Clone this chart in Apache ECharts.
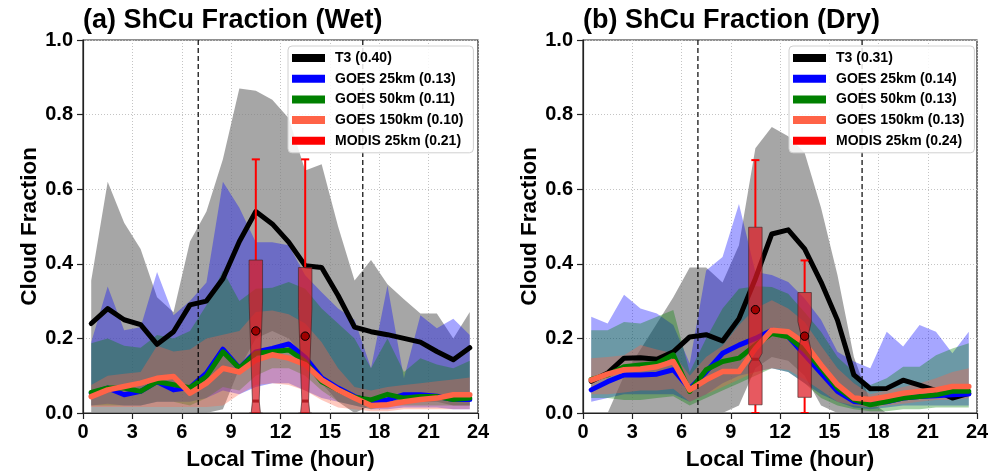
<!DOCTYPE html>
<html><head><meta charset="utf-8">
<script src="https://cdn.jsdelivr.net/npm/echarts/dist/echarts.min.js"></script>
<style>html,body{margin:0;padding:0;background:#fff}#c{width:995px;height:476px}</style>
</head><body><div id="c"></div>
<script>
const FONT = "'Liberation Sans', Arial, Helvetica, sans-serif";

// ---- shared ----
const hours = [0.5,1.5,2.5,3.5,4.5,5.5,6.5,7.5,8.5,9.5,10.5,11.5,12.5,13.5,14.5,15.5,16.5,17.5,18.5,19.5,20.5,21.5,22.5,23.5];
const xTickLabels = [0,3,6,9,12,15,18,21,24];
const yTickLabels = [0.0,0.2,0.4,0.6,0.8,1.0];
const dayBounds = [7, 17];

// ---- (a) Wet ----
const titleWet = "(a) ShCu Fraction (Wet)";
const namesWet = ["T3 (0.40)","GOES 25km (0.13)","GOES 50km (0.11)","GOES 150km (0.10)","MODIS 25km (0.21)"];
const t3Wet      = [0.24,0.28,0.25,0.237,0.184,0.218,0.29,0.30,0.36,0.46,0.54,0.507,0.458,0.395,0.39,0.315,0.23,0.218,0.21,0.20,0.19,0.165,0.143,0.175];
const goes25Wet  = [0.053,0.067,0.049,0.058,0.084,0.062,0.068,0.107,0.171,0.12,0.164,0.173,0.185,0.149,0.094,0.067,0.044,0.031,0.035,0.049,0.049,0.045,0.036,0.036];
const goes50Wet  = [0.055,0.067,0.067,0.058,0.084,0.076,0.068,0.098,0.164,0.12,0.16,0.164,0.169,0.138,0.084,0.062,0.042,0.035,0.05,0.04,0.044,0.044,0.036,0.04];
const goes150Wet = [0.044,0.062,0.071,0.08,0.093,0.098,0.053,0.08,0.12,0.11,0.142,0.156,0.147,0.13,0.089,0.062,0.04,0.02,0.022,0.03,0.036,0.04,0.049,0.049];
const grayLoWet  = [0,0,0,0,0,0,0,0,0.01,0.12,0.2,0.22,0.2,0.15,0.08,0.03,0,0.02,0.03,0.03,0.03,0.03,0.02,0.02];
const grayHiWet  = [0.355,0.62,0.51,0.44,0.31,0.27,0.46,0.54,0.68,0.87,0.864,0.84,0.79,0.65,0.667,0.50,0.355,0.41,0.345,0.305,0.267,0.267,0.2,0.271];
const blueLoWet  = [0.02,0.025,0.02,0.02,0.03,0.03,0.03,0.04,0.06,0.05,0.07,0.08,0.08,0.06,0.04,0.03,0.02,0.01,0.01,0.015,0.015,0.015,0.01,0.01];
const blueHiWet  = [0.19,0.339,0.222,0.23,0.378,0.262,0.30,0.35,0.62,0.55,0.458,0.458,0.45,0.369,0.324,0.28,0.25,0.12,0.342,0.093,0.262,0.227,0.253,0.209];
const greenLoWet = [0.02,0.02,0.02,0.02,0.03,0.03,0.02,0.04,0.07,0.06,0.1,0.12,0.12,0.1,0.06,0.03,0.02,0.01,0.02,0.02,0.02,0.02,0.02,0.02];
const greenHiWet = [0.187,0.2,0.18,0.175,0.209,0.2,0.22,0.289,0.382,0.3,0.333,0.336,0.351,0.333,0.28,0.24,0.2,0.12,0.2,0.11,0.147,0.13,0.12,0.14];
const tomLoWet   = [0.016,0.016,0.016,0.016,0.016,0.016,0.016,0.016,0.02,0.05,0.075,0.08,0.075,0.06,0.035,0.015,0.01,0.005,0.005,0.01,0.01,0.01,0.01,0.01];
const tomHiWet   = [0.075,0.1,0.105,0.11,0.18,0.165,0.17,0.2,0.21,0.22,0.271,0.275,0.265,0.24,0.19,0.12,0.07,0.06,0.07,0.075,0.08,0.085,0.09,0.095];
// MODIS boxes: [hour, q1, notchLow, median, notchHigh, q3, whiskerLow, whiskerHigh, mean]
const modisWet = [
  [10.5, 0, -0.055, 0.032, 0.30, 0.41, 0, 0.68, 0.22],
  [13.5, 0, -0.055, 0.032, 0.28, 0.39, 0, 0.68, 0.206]
];

// ---- (b) Dry ----
const titleDry = "(b) ShCu Fraction (Dry)";
const namesDry = ["T3 (0.31)","GOES 25km (0.14)","GOES 50km (0.13)","GOES 150km (0.13)","MODIS 25km (0.24)"];
const t3Dry      = [0.085,0.107,0.147,0.148,0.144,0.164,0.204,0.21,0.193,0.253,0.36,0.48,0.491,0.44,0.351,0.249,0.102,0.065,0.066,0.088,0.075,0.06,0.04,0.053];
const goes25Dry  = [0.062,0.084,0.102,0.102,0.104,0.116,0.065,0.11,0.16,0.182,0.2,0.222,0.205,0.156,0.107,0.058,0.031,0.027,0.03,0.04,0.044,0.046,0.049,0.051];
const goes50Dry  = [0.09,0.102,0.124,0.129,0.133,0.156,0.058,0.116,0.138,0.147,0.182,0.213,0.204,0.169,0.12,0.067,0.036,0.022,0.031,0.04,0.044,0.049,0.058,0.058];
const goes150Dry = [0.088,0.104,0.116,0.118,0.124,0.138,0.062,0.089,0.111,0.111,0.173,0.222,0.218,0.187,0.129,0.076,0.04,0.036,0.044,0.053,0.058,0.062,0.071,0.071];
const grayLoDry  = [0,0,0,0,0,0,0,0,0,0.02,0.12,0.15,0.14,0.1,0.02,0,0,0,0,0,0,0,0,0];
const grayHiDry  = [0,0,0.1,0.17,0.24,0.31,0.39,0.39,0.35,0.45,0.71,0.767,0.742,0.698,0.55,0.37,0.15,0.03,0,0,0,0,0,0];
const blueLoDry  = [0.03,0.04,0.05,0.05,0.05,0.05,0.03,0.05,0.08,0.1,0.11,0.12,0.11,0.08,0.05,0.03,0.015,0.01,0.015,0.02,0.02,0.02,0.02,0.02];
const blueHiDry  = [0.258,0.24,0.317,0.28,0.267,0.236,0.133,0.382,0.418,0.56,0.378,0.37,0.351,0.307,0.25,0.164,0.138,0.12,0.218,0.178,0.236,0.218,0.16,0.218];
const greenLoDry = [0.04,0.04,0.035,0.035,0.04,0.045,0.02,0.04,0.06,0.08,0.1,0.12,0.11,0.08,0.04,0.02,0.01,0.005,0.005,0.01,0.01,0.015,0.015,0.015];
const greenHiDry = [0.222,0.222,0.244,0.24,0.258,0.276,0.11,0.2,0.28,0.333,0.34,0.338,0.32,0.27,0.218,0.15,0.11,0.075,0.093,0.124,0.124,0.155,0.173,0.187];
const tomLoDry   = [0.05,0.05,0.055,0.06,0.06,0.065,0.03,0.05,0.07,0.09,0.11,0.12,0.115,0.09,0.06,0.03,0.02,0.015,0.02,0.025,0.03,0.035,0.035,0.04];
const tomHiDry   = [0.147,0.15,0.155,0.182,0.17,0.16,0.1,0.15,0.18,0.236,0.28,0.302,0.28,0.244,0.18,0.12,0.08,0.05,0.06,0.07,0.08,0.093,0.11,0.12];
const modisDry = [
  [10.5, 0.022, 0.128, 0.144, 0.16, 0.498, 0, 0.678, 0.277],
  [13.5, 0.042, 0.165, 0.206, 0.245, 0.323, 0, 0.409, 0.206]
];

// ---- colours ----
const lineColors = ['#000000', '#0000ff', '#008000', '#ff6347', '#ff0000'];
const bandColors = ['rgba(128,128,128,0.7)', 'rgba(0,0,255,0.35)', 'rgba(0,128,0,0.35)', 'rgba(255,99,71,0.35)'];

const BOX_HALF = 0.41;

// band drawn as one polygon through the axis scales (api.coord)
function bandSeries(ai, lo, hi, color) {
  return { type: 'custom', xAxisIndex: ai, yAxisIndex: ai, silent: true, z: 1, clip: true,
    encode: { x: 0, y: [1, 2] },
    data: hours.map((h, i) => [h, lo[i], hi[i]]),
    renderItem: function (params, api) {
      if (params.dataIndex !== 0) return null;
      const pts = [];
      for (let i = 0; i < hours.length; i++) pts.push(api.coord([hours[i], hi[i]]));
      for (let i = hours.length - 1; i >= 0; i--) pts.push(api.coord([hours[i], lo[i]]));
      return { type: 'polygon', shape: { points: pts }, style: { fill: color, stroke: null } };
    } };
}

function lineSeries(ai, name, vals, color, w, z) {
  return { type: 'line', name: name, xAxisIndex: ai, yAxisIndex: ai, symbol: 'none', z: z,
    itemStyle: { color: color }, lineStyle: { color: color, width: w, join: 'round', cap: 'round' },
    data: hours.map((h, i) => [h, vals[i]]) };
}

function renderBox(params, api) {
  const x = api.value(0), q1 = api.value(1), nlo = api.value(2), med = api.value(3),
        nhi = api.value(4), q3 = api.value(5), wlo = api.value(6), whi = api.value(7), mean = api.value(8);
  const px = api.coord([x, 0])[0];
  const hw = api.size([BOX_HALF, 0])[0];
  const waist = hw * 0.5, cap = hw * 0.6;
  const Y = v => api.coord([x, v])[1];
  const red = '#ff0000';
  return { type: 'group', children: [
    { type: 'line', shape: { x1: px, y1: Y(q3), x2: px, y2: Y(whi) }, style: { stroke: red, lineWidth: 2 } },
    { type: 'line', shape: { x1: px - cap, y1: Y(whi), x2: px + cap, y2: Y(whi) }, style: { stroke: red, lineWidth: 2 } },
    { type: 'line', shape: { x1: px, y1: Y(q1), x2: px, y2: Y(wlo) }, style: { stroke: red, lineWidth: 2 } },
    { type: 'line', shape: { x1: px - cap, y1: Y(wlo), x2: px + cap, y2: Y(wlo) }, style: { stroke: red, lineWidth: 2 } },
    { type: 'polygon', shape: { points: [
        [px - hw, Y(q1)], [px + hw, Y(q1)], [px + hw, Y(nlo)], [px + waist, Y(med)], [px + hw, Y(nhi)],
        [px + hw, Y(q3)], [px - hw, Y(q3)], [px - hw, Y(nhi)], [px - waist, Y(med)], [px - hw, Y(nlo)] ] },
      style: { fill: 'rgba(222,25,35,0.72)', stroke: 'rgba(70,40,40,0.85)', lineWidth: 0.8 } },
    { type: 'line', shape: { x1: px - waist, y1: Y(med), x2: px + waist, y2: Y(med) }, style: { stroke: '#b01c22', lineWidth: 3 } },
    { type: 'circle', shape: { cx: px, cy: Y(mean), r: 4.2 }, style: { fill: '#a00000', stroke: '#000', lineWidth: 1 } }
  ]};
}

function panelSeries(ai, names, t3, g25, g50, g150, bands, modis) {
  let s = [];
  bands.forEach((b, k) => { s.push(bandSeries(ai, b[0], b[1], bandColors[k])); });
  s.push(lineSeries(ai, names[0], t3, lineColors[0], 5, 2));
  s.push(lineSeries(ai, names[1], g25, lineColors[1], 5, 2));
  s.push(lineSeries(ai, names[2], g50, lineColors[2], 5, 2));
  s.push(lineSeries(ai, names[3], g150, lineColors[3], 5.5, 2));
  s.push({ type: 'custom', name: names[4], xAxisIndex: ai, yAxisIndex: ai, z: 3, clip: true,
    itemStyle: { color: lineColors[4] }, renderItem: renderBox, data: modis });
  dayBounds.forEach(b => {
    s.push({ type: 'line', xAxisIndex: ai, yAxisIndex: ai, symbol: 'none', silent: true, z: 4,
      lineStyle: { color: '#000', width: 1.2, type: [5, 3] }, data: [[b, 0], [b, 1]] });
  });
  return s;
}

const axisText = { color: '#000', fontFamily: FONT, fontWeight: 'bold', fontSize: 20 };
const nameText = { color: '#000', fontFamily: FONT, fontWeight: 'bold', fontSize: 22.5 };

function xAxis(gi) {
  return { type: 'value', gridIndex: gi, min: xTickLabels[0], max: xTickLabels[xTickLabels.length - 1],
    interval: xTickLabels[1] - xTickLabels[0],
    name: 'Local Time (hour)', nameLocation: 'middle', nameGap: 35, nameTextStyle: nameText,
    axisLine: { show: true, lineStyle: { color: '#222', width: 1.2 } },
    axisTick: { show: true, length: 6, lineStyle: { color: '#222', width: 1.2 } },
    axisLabel: Object.assign({ margin: 9, formatter: v => String(v) }, axisText),
    splitLine: { show: true, lineStyle: { color: '#c4c4c4', width: 1, type: [1, 2] } } };
}
function yAxis(gi) {
  return { type: 'value', gridIndex: gi, min: yTickLabels[0], max: yTickLabels[yTickLabels.length - 1],
    interval: 0.2,
    name: 'Cloud Fraction', nameLocation: 'middle', nameGap: 42, nameTextStyle: nameText,
    axisLine: { show: true, lineStyle: { color: '#222', width: 1.2 } },
    axisTick: { show: true, length: 6, lineStyle: { color: '#222', width: 1.2 } },
    axisLabel: Object.assign({ margin: 10, formatter: v => v.toFixed(1) }, axisText),
    splitLine: { show: true, lineStyle: { color: '#c4c4c4', width: 1, type: [1, 2] } } };
}
function legend(left, names) {
  return { left: left, top: 46, orient: 'vertical', data: names, icon: 'rect', itemWidth: 33, itemHeight: 8,
    itemGap: 4.7, selectedMode: false, z: 10,
    textStyle: { color: '#000', fontFamily: FONT, fontWeight: 'bold', fontSize: 14, lineHeight: 16, padding: [0, 0, 0, 5] },
    backgroundColor: 'rgba(255,255,255,0.85)', borderColor: '#d0d0d0', borderWidth: 1, borderRadius: 4,
    padding: [4, 10, 4, 4] };
}

const option = {
  animation: false,
  backgroundColor: '#fff',
  grid: [
    { left: 83, top: 40, width: 395, height: 375, show: true, borderColor: '#222', borderWidth: 1.2, backgroundColor: 'transparent' },
    { left: 583, top: 40, width: 394, height: 375, show: true, borderColor: '#222', borderWidth: 1.2, backgroundColor: 'transparent' }
  ],
  xAxis: [xAxis(0), xAxis(1)],
  yAxis: [yAxis(0), yAxis(1)],
  legend: [legend(288, namesWet), legend(789, namesDry)],
  graphic: [
    { type: 'text', left: 83, top: 7, z: 10, style: { text: titleWet, font: 'bold 27px ' + FONT, fill: '#000' } },
    { type: 'text', left: 583, top: 7, z: 10, style: { text: titleDry, font: 'bold 27px ' + FONT, fill: '#000' } }
  ],
  series: [].concat(
    panelSeries(0, namesWet, t3Wet, goes25Wet, goes50Wet, goes150Wet,
      [[grayLoWet, grayHiWet], [blueLoWet, blueHiWet], [greenLoWet, greenHiWet], [tomLoWet, tomHiWet]], modisWet),
    panelSeries(1, namesDry, t3Dry, goes25Dry, goes50Dry, goes150Dry,
      [[grayLoDry, grayHiDry], [blueLoDry, blueHiDry], [greenLoDry, greenHiDry], [tomLoDry, tomHiDry]], modisDry)
  )
};

const chart = echarts.init(document.getElementById('c'), null, { renderer: 'canvas' });
chart.setOption(option);
</script>
</body></html>
